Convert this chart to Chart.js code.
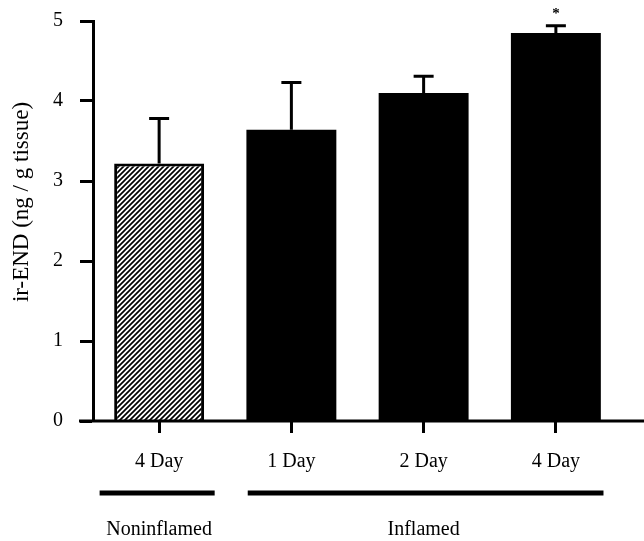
<!DOCTYPE html>
<html>
<head>
<meta charset="utf-8">
<script src="https://cdn.jsdelivr.net/npm/chart.js@4"></script>
<style>
  body { margin: 0; background: #fff; }
  #cadre { width: 644px; height: 541px; }
</style>
</head>
<body>
<div id="cadre"><canvas id="graphique"></canvas></div>
<script>
// données
const categories   = ['4 Day', '1 Day', '2 Day', '4 Day'];
const moyennes     = [3.22, 3.64, 4.10, 4.85];
const erreurs      = [0.56, 0.59, 0.21, 0.09];
const marques      = ['', '', '', '*'];
const groupes      = ['Noninflamed', 'Inflamed'];
const debutGroupe  = [0, 1];
const finGroupe    = [0, 3];
const ticksY       = [0, 1, 2, 3, 4, 5];

const POLICE = '"Liberation Serif", "Times New Roman", serif';

// motif hachuré pour la barre "Noninflamed"
function motifHachure() {
    const c = document.createElement('canvas');
    c.width = 5; c.height = 5;
    const g = c.getContext('2d');
    g.fillStyle = '#fff';
    g.fillRect(0, 0, 5, 5);
    g.strokeStyle = '#000';
    g.lineWidth = 1.7;
    g.beginPath();
    g.moveTo(-1, 6); g.lineTo(6, -1);
    g.moveTo(-1, 1); g.lineTo(1, -1);
    g.moveTo(4, 6); g.lineTo(6, 4);
    g.stroke();
    return g.createPattern(c, 'repeat');
}

const hachure = motifHachure();

// barres d'erreur, axe X prolongé, titre Y, astérisque et groupes
const decor = {
    id: 'decor',
    afterDatasetsDraw(chart) {
        const g = chart.ctx;
        const y = chart.scales.y;
        const meta = chart.getDatasetMeta(0);
        g.save();
        g.strokeStyle = '#000';
        g.fillStyle = '#000';
        g.lineWidth = 3;
        moyennes.forEach((v, i) => {
            const px = meta.data[i].x;
            const haut = y.getPixelForValue(v + erreurs[i]);
            g.beginPath();
            g.moveTo(px, y.getPixelForValue(v));
            g.lineTo(px, haut);
            g.moveTo(px - 10, haut);
            g.lineTo(px + 10, haut);
            g.stroke();
            if (marques[i]) {
                g.font = 'bold 15px ' + POLICE;
                g.textAlign = 'center';
                g.textBaseline = 'middle';
                g.fillText(marques[i], px, haut - 12);
            }
        });
        g.restore();
    },
    afterDraw(chart) {
        const g = chart.ctx;
        const x = chart.scales.x;
        const bas = chart.chartArea.bottom;
        g.save();
        g.strokeStyle = '#000';
        g.fillStyle = '#000';

        // axe X, déborde à gauche et à droite
        g.lineWidth = 3;
        g.beginPath();
        g.moveTo(chart.chartArea.left - 14, bas);
        g.lineTo(chart.width, bas);
        g.stroke();

        // titre de l'axe Y
        g.save();
        g.translate(22, 202);
        g.rotate(-Math.PI / 2);
        g.font = '23px ' + POLICE;
        g.textAlign = 'center';
        g.textBaseline = 'middle';
        g.fillText('ir-END (ng / g tissue)', 0, 0);
        g.restore();

        // traits et noms des groupes
        const marges = [[-0.45, 0.42], [-0.33, 0.36]];
        g.lineWidth = 5;
        g.font = '20px ' + POLICE;
        g.textAlign = 'center';
        g.textBaseline = 'middle';
        groupes.forEach((nom, k) => {
            const x1 = x.getPixelForValue(debutGroupe[k] + marges[k][0]);
            const x2 = x.getPixelForValue(finGroupe[k] + marges[k][1]);
            g.beginPath();
            g.moveTo(x1, bas + 72);
            g.lineTo(x2, bas + 72);
            g.stroke();
            const xc = (x.getPixelForValue(debutGroupe[k]) + x.getPixelForValue(finGroupe[k])) / 2;
            g.fillText(nom, xc, bas + 109);
        });
        g.restore();
    }
};

const ctx = document.getElementById('graphique');

const monGraphique = new Chart(ctx, {
    type: 'bar',
    data: {
        labels: categories,
        datasets: [{
            data: moyennes,
            backgroundColor: [hachure, '#000', '#000', '#000'],
            borderColor: '#000',
            borderWidth: [3, 0, 0, 0],
            barPercentage: 0.68,
            categoryPercentage: 1
        }]
    },
    options: {
        responsive: true,
        maintainAspectRatio: false,
        animation: false,
        layout: { padding: { top: 21, right: 22, left: 0, bottom: 0 } },
        plugins: {
            legend: { display: false },
            tooltip: { enabled: false }
        },
        scales: {
            x: {
                type: 'category',
                offset: true,
                afterFit: s => { s.height = 120; },
                border: { display: false },
                grid: {
                    offset: false,
                    drawOnChartArea: false,
                    drawTicks: true,
                    tickLength: 12,
                    tickWidth: 3,
                    color: '#000'
                },
                ticks: {
                    color: '#000',
                    padding: 17,
                    maxRotation: 0,
                    font: { family: POLICE, size: 20 }
                }
            },
            y: {
                min: 0,
                max: 5,
                afterFit: s => { s.width = 93; s.paddingTop = 0; s.paddingBottom = 0; },
                afterBuildTicks: s => { s.ticks = ticksY.map(v => ({ value: v })); },
                border: { display: true, color: '#000', width: 3 },
                grid: {
                    drawOnChartArea: false,
                    drawTicks: true,
                    tickLength: 13,
                    tickWidth: 3,
                    color: '#000'
                },
                ticks: {
                    color: '#000',
                    padding: 17,
                    font: { family: POLICE, size: 20 }
                }
            }
        }
    },
    plugins: [decor]
});
</script>
</body>
</html>
